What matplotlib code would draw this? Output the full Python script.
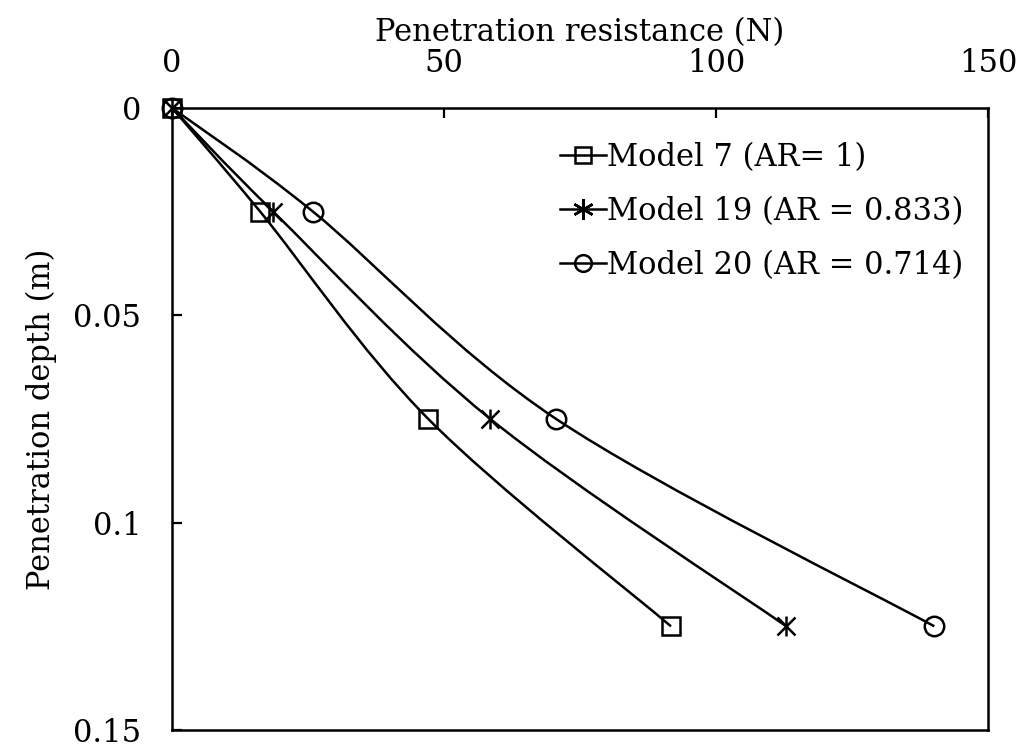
import numpy as np
import matplotlib
matplotlib.use("Agg")
import matplotlib.pyplot as plt
from matplotlib.path import Path
from matplotlib.patches import PathPatch
from matplotlib.lines import Line2D

depth = [0.0, 0.025, 0.075, 0.125]
model7 = [0.0, 16.2, 47.1, 91.7]
model19 = [0.0, 18.6, 58.5, 112.9]
model20 = [0.0, 25.9, 70.6, 140.1]
labels = ["Model 7 (AR= 1)", "Model 19 (AR = 0.833)", "Model 20 (AR = 0.714)"]
markers = ["s", "x", "o"]

plt.rcParams["font.family"] = ["DejaVu Serif"]
fig = plt.figure(figsize=(10.24, 7.49), dpi=100)
ax = fig.add_axes([0.168, 0.0254, 0.797, 0.8305])
ax.set_xlim(0, 150)
ax.set_ylim(0.15, 0)

def smooth(ax, xs, ys):
    # Catmull-Rom style Bezier smoothing in display space
    pts = ax.transData.transform(np.column_stack([xs, ys]))
    n = len(pts)
    verts = [pts[0]]
    codes = [Path.MOVETO]
    for i in range(n - 1):
        p0 = pts[i - 1] if i > 0 else pts[i]
        p1 = pts[i]
        p2 = pts[i + 1]
        p3 = pts[i + 2] if i + 2 < n else pts[i + 1]
        c1 = p1 + (p2 - p0) / 6.0
        c2 = p2 - (p3 - p1) / 6.0
        verts += [c1, c2, p2]
        codes += [Path.CURVE4] * 3
    path = Path(verts, codes)
    patch = PathPatch(path, transform=None, fill=False, edgecolor="black", lw=1.8)
    ax.add_patch(patch)

handles = []
for xs, m, lab in zip([model7, model19, model20], markers, labels):
    smooth(ax, xs, depth)
    ax.plot(xs, depth, linestyle="none", marker=m, markersize=14 if m == "o" else 13,
            markerfacecolor="none", markeredgecolor="black", markeredgewidth=1.8, clip_on=False, zorder=3)
    if m == "x":
        ax.plot(xs, depth, linestyle="none", marker="|", markersize=14,
                markeredgecolor="black", markeredgewidth=1.8, clip_on=False, zorder=3)
        h = Line2D([], [], color="black", lw=1.8, marker=(6, 2, 0), markersize=15,
                   markeredgewidth=1.8)
    else:
        h = Line2D([], [], color="black", lw=1.8, marker=m, markersize=12,
                   markerfacecolor="none", markeredgewidth=1.8)
    handles.append(h)

ax.xaxis.tick_top()
ax.xaxis.set_label_position("top")
ax.set_xticks([0, 50, 100, 150])
ax.set_xticklabels(["0", "50", "100", "150"])
ax.set_yticks([0, 0.05, 0.1, 0.15])
ax.set_yticklabels(["0", "0.05", "0.1", "0.15"])
ax.tick_params(axis="both", direction="in", length=7, width=1.6, labelsize=22)
ax.tick_params(axis="y", pad=22)
ax.tick_params(axis="x", pad=21)
ax.set_xlabel("Penetration resistance (N)", fontsize=22, labelpad=5)
ax.set_ylabel("Penetration depth (m)", fontsize=22, labelpad=12)
for s in ax.spines.values():
    s.set_linewidth(1.8)

ax.legend(handles, labels, loc="upper right", bbox_to_anchor=(0.985, 0.965), frameon=False,
          fontsize=22, handlelength=1.5, handletextpad=0.05, labelspacing=0.75, borderaxespad=0)

fig.savefig("out.png", dpi=100)
